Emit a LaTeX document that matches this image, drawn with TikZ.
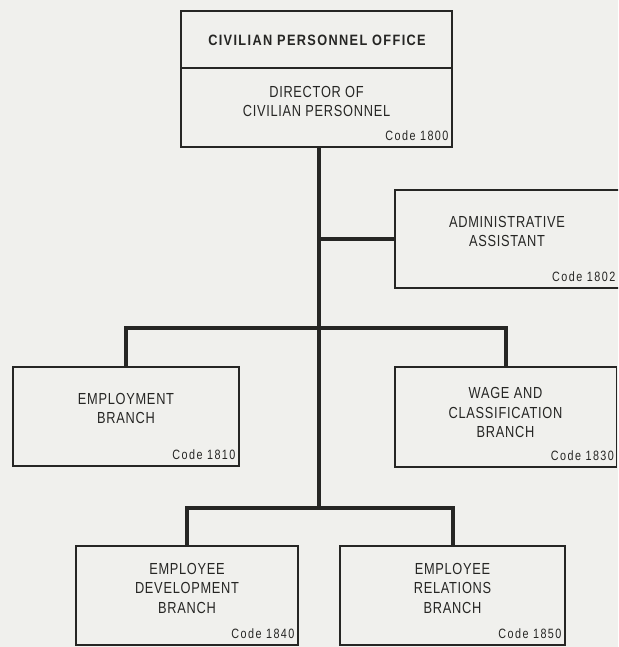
\documentclass[tikz,border=0pt]{standalone}
\usepackage{fontspec}
\setmainfont[FakeStretch=0.8,LetterSpace=4.5]{Liberation Sans}
\newfontfamily\titlefont[FakeStretch=0.85,LetterSpace=9]{Liberation Sans}
\newfontfamily\codefont[FakeStretch=0.8,LetterSpace=11]{Liberation Sans}
\definecolor{paperc}{RGB}{240,240,237}
\definecolor{inkc}{RGB}{38,38,36}
\begin{document}
\begin{tikzpicture}[x=1pt,y=-1pt,
  paper/.style={fill=paperc,draw=none},
  unit/.style={draw=inkc,line width=1.4pt,fill=paperc,inner sep=0pt},
  conn/.style={draw=inkc,line width=4pt,line cap=rect},
  unitname/.style={text=inkc,align=center,font=\fontsize{16}{19.5}\selectfont,inner sep=0pt},
  unittitle/.style={text=inkc,align=center,font=\titlefont\fontsize{15}{19}\selectfont\bfseries,inner sep=0pt},
  unitcode/.style={text=inkc,font=\codefont\fontsize{13.5}{15}\selectfont,inner sep=0pt,anchor=south east}]
% page
\path[paper] (0,0) rectangle (618,647);
\useasboundingbox (0,0) rectangle (618,647);
\begin{scope}
\clip (0,0) rectangle (618,647);

% junctions on the trunk
\coordinate (jadmin) at (319,239);
\coordinate (jmid) at (319,328);
\coordinate (jlow) at (319,508);

% boxes
\node[unit,minimum width=271pt,minimum height=57pt] (office) at (316.5,39.5) {};
\node[unit,minimum width=271pt,minimum height=79pt] (director) at (316.5,107.5) {};
\node[unit,minimum width=227pt,minimum height=98pt] (admin) at (508.5,239) {};
\node[unit,minimum width=226pt,minimum height=99pt] (employ) at (126,416.5) {};
\node[unit,minimum width=221.5pt,minimum height=100pt] (wage) at (505.75,417) {};
\node[unit,minimum width=222pt,minimum height=99pt] (devel) at (187,595.5) {};
\node[unit,minimum width=225pt,minimum height=99pt] (relat) at (452.5,595.5) {};

% connectors
\draw[conn] (director.south -| jadmin) -- (jlow);
\draw[conn] (jadmin) -- (admin.west |- jadmin);
\draw[conn] (employ.north) |- (jmid) -| (wage.north);
\draw[conn] (devel.north) |- (jlow) -| (relat.north);

% texts
\node[unittitle] (t-office) at (317,40) {CIVILIAN PERSONNEL OFFICE};
\node[unitname] (t-director) at (316.5,101.5) {DIRECTOR OF\\CIVILIAN PERSONNEL};
\node[unitcode] (c-director) at ([xshift=-4pt,yshift=7pt]director.south east) {Code 1800};
\node[unitname] (t-admin) at (507,231.5) {ADMINISTRATIVE\\ASSISTANT};
\node[unitcode] (c-admin) at (615.5,282) {Code 1802};
\node[unitname] (t-employ) at (126,408.5) {EMPLOYMENT\\BRANCH};
\node[unitcode] (c-employ) at ([xshift=-4pt,yshift=7pt]employ.south east) {Code 1810};
\node[unitname] (t-wage) at (505.5,412.5) {WAGE AND\\CLASSIFICATION\\BRANCH};
\node[unitcode] (c-wage) at ([xshift=-3pt,yshift=7pt]wage.south east) {Code 1830};
\node[unitname] (t-devel) at (187,588) {EMPLOYEE\\DEVELOPMENT\\BRANCH};
\node[unitcode] (c-devel) at ([xshift=-4pt,yshift=7pt]devel.south east) {Code 1840};
\node[unitname] (t-relat) at (452.5,588) {EMPLOYEE\\RELATIONS\\BRANCH};
\node[unitcode] (c-relat) at ([xshift=-4pt,yshift=7pt]relat.south east) {Code 1850};
\end{scope}
\end{tikzpicture}
\end{document}
